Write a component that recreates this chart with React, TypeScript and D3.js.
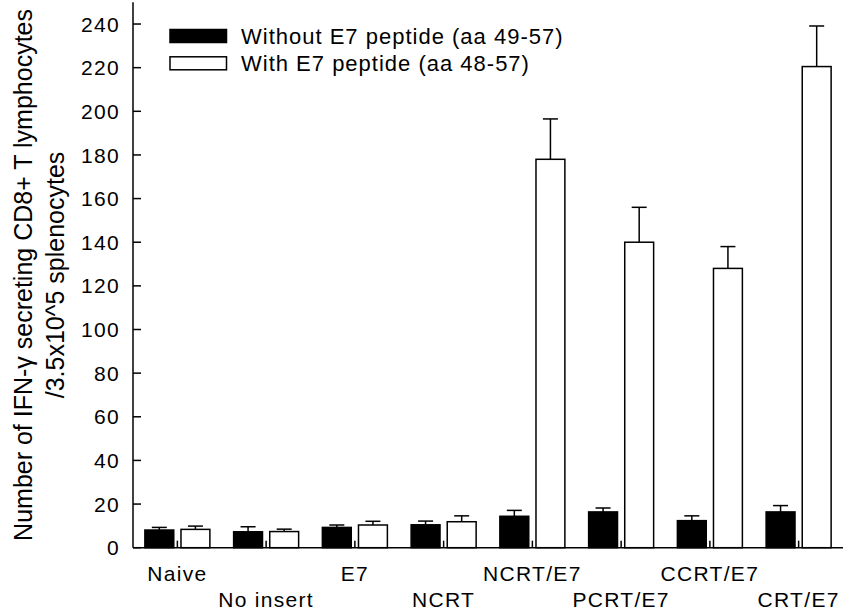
import React from "react";
import * as d3 from "d3";

const categories = ["Naive", "No insert", "E7", "NCRT", "NCRT/E7", "PCRT/E7", "CCRT/E7", "CRT/E7"];
const withoutValues = [8.1, 7.3, 9.3, 10.5, 14.4, 16.4, 12.4, 16.4];
const withoutErrors = [1.2, 2.3, 1.1, 1.7, 2.7, 1.8, 2.2, 2.9];
const withValues = [8.4, 7.4, 10.4, 11.9, 178, 140, 128, 220.5];
const withErrors = [1.5, 1.1, 1.7, 2.7, 18.5, 16, 10, 18.6];
const yTicks = [0, 20, 40, 60, 80, 100, 120, 140, 160, 180, 200, 220, 240];
const seriesNames = ["Without E7 peptide (aa 49-57)", "With E7 peptide (aa 48-57)"];
const seriesFill = ["#000000", "#ffffff"];

const W = 844;
const H = 615;
const FONT = "'Liberation Sans', Arial, Helvetica, sans-serif";

export default function App() {
  const x = d3.scaleBand<string>().domain(categories).range([133, 843]).paddingInner(0).paddingOuter(0);
  const sub = d3.scaleBand<string>().domain(["without", "with"]).range([-32.5, 32.5]).paddingInner(0.2);
  const y = d3.scaleLinear().domain([0, 250]).range([547.7, 2.2]);
  const series = [
    { key: "without", values: withoutValues, errors: withoutErrors, fill: seriesFill[0] },
    { key: "with", values: withValues, errors: withErrors, fill: seriesFill[1] },
  ];
  const cx = (c: string) => (x(c) as number) + x.bandwidth() / 2;
  const capW = 15;

  return (
    <svg width={W} height={H} style={{ position: "absolute", left: 0, top: 0, background: "#fff" }} fontFamily={FONT}>
      <rect x={0} y={0} width={W} height={H} fill="#fff" />
      {/* y axis title */}
      <text transform={`translate(32,${(y(0) + y(250)) / 2}) rotate(-90)`} textAnchor="middle" fontSize={25} fill="#000">
        Number of IFN-γ secreting CD8+ T lymphocytes
      </text>
      <text transform={`translate(64,${(y(0) + y(250)) / 2}) rotate(-90)`} textAnchor="middle" fontSize={25} fill="#000">
        /3.5x10^5 splenocytes
      </text>

      {/* bars */}
      {series.map((s) =>
        categories.map((c, i) => {
          const bx = cx(c) + (sub(s.key) as number);
          const top = y(s.values[i]);
          const etop = y(s.values[i] + s.errors[i]);
          const mid = bx + sub.bandwidth() / 2;
          return (
            <g key={s.key + c}>
              <line x1={mid} x2={mid} y1={top} y2={etop} stroke="#000" strokeWidth={1.5} />
              <line x1={mid - capW / 2} x2={mid + capW / 2} y1={etop} y2={etop} stroke="#000" strokeWidth={1.5} />
              <rect x={bx} y={top} width={sub.bandwidth()} height={y(0) - top} fill={s.fill} stroke="#000" strokeWidth={1.5} />
            </g>
          );
        })
      )}

      {/* axes */}
      <line x1={133} x2={133} y1={y(250)} y2={y(0)} stroke="#000" strokeWidth={1.5} />
      <line x1={133} x2={843} y1={y(0)} y2={y(0)} stroke="#000" strokeWidth={1.5} />
      {yTicks.map((t) => (
        <g key={t}>
          <line x1={133} x2={141} y1={y(t)} y2={y(t)} stroke="#000" strokeWidth={1.5} />
          <text x={120} y={y(t)} dy="0.36em" textAnchor="end" fontSize={21} letterSpacing={1.3} fill="#000">
            {t}
          </text>
        </g>
      ))}
      {categories.map((c, i) => (
        <g key={c}>
          <line x1={cx(c)} x2={cx(c)} y1={y(0)} y2={y(0) - 7} stroke="#000" strokeWidth={1.5} />
          <text x={cx(c)} y={i % 2 === 0 ? 581 : 606.5} textAnchor="middle" fontSize={21} letterSpacing={1.3} fill="#000">
            {c}
          </text>
        </g>
      ))}

      {/* legend */}
      {seriesNames.map((n, i) => (
        <g key={n}>
          <rect x={170} y={29.5 + i * 27.3} width={56.5} height={13} fill={seriesFill[i]} stroke="#000" strokeWidth={1.5} />
          <text x={241} y={36 + i * 27.3} dy="0.36em" fontSize={22} letterSpacing={1} fill="#000">
            {n}
          </text>
        </g>
      ))}
    </svg>
  );
}
